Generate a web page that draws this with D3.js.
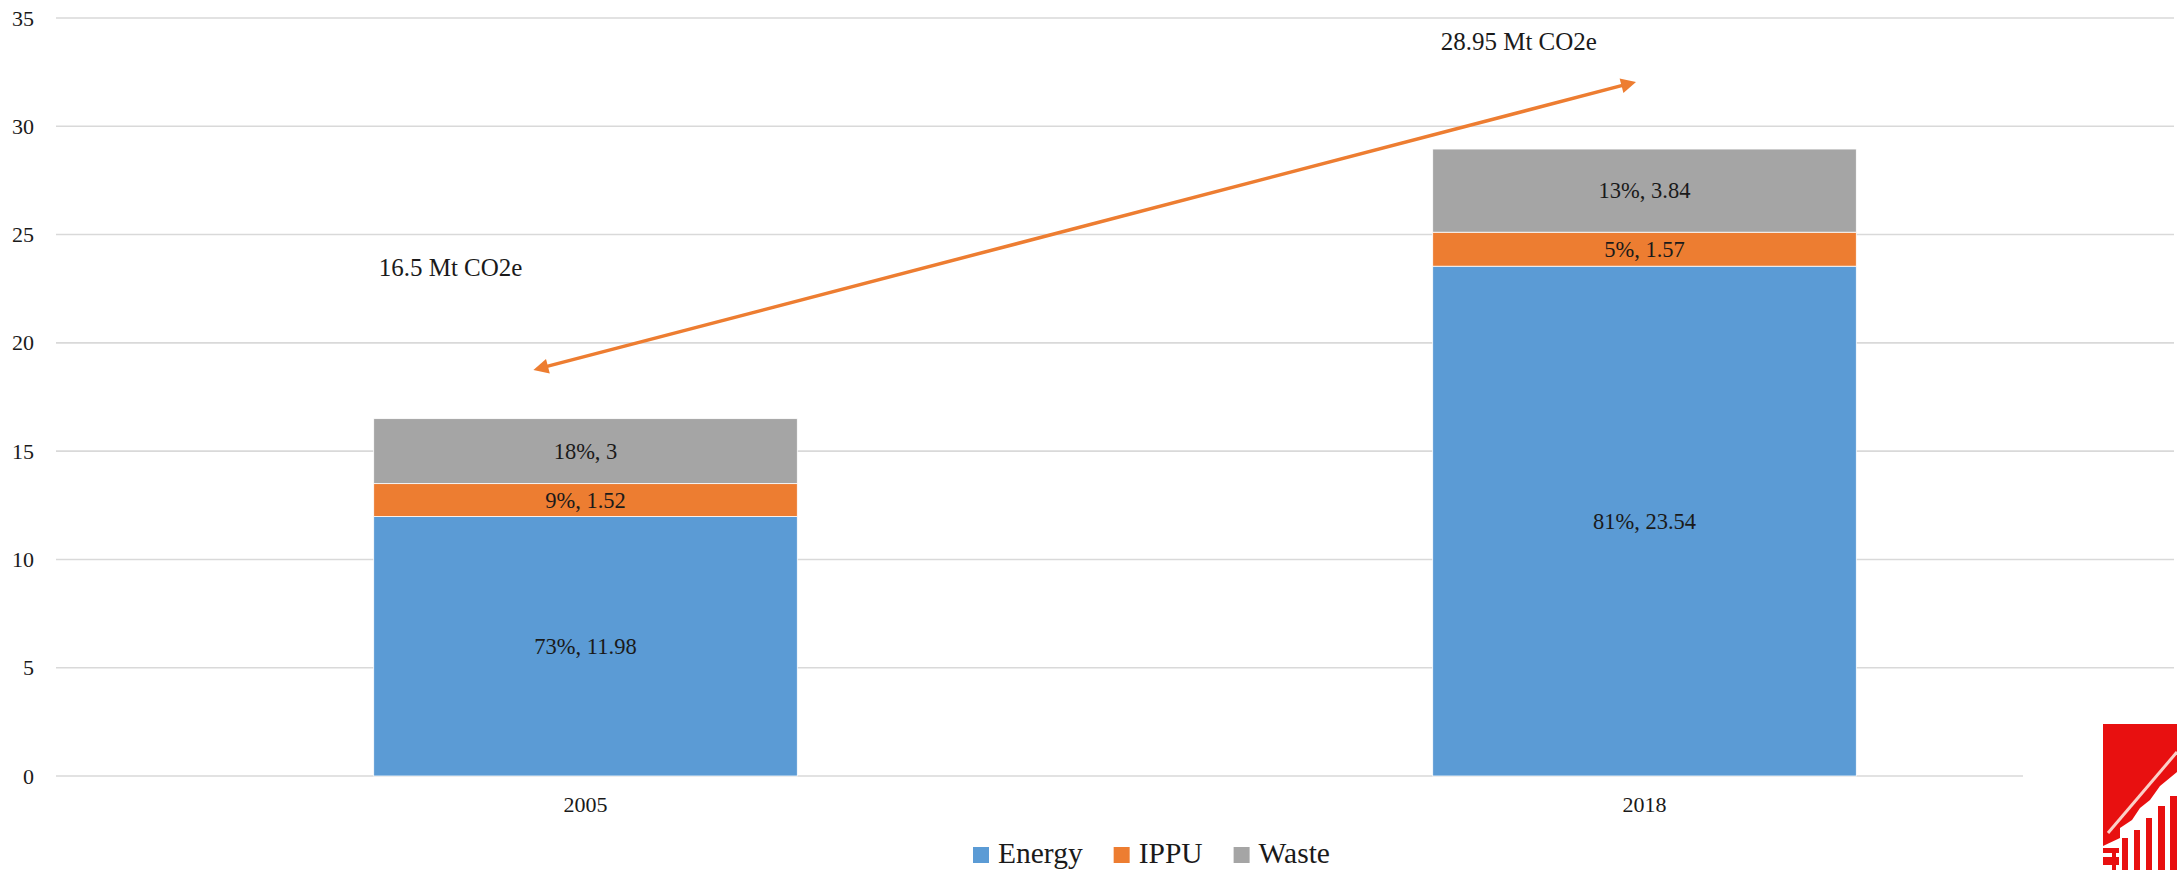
<!DOCTYPE html>
<html>
<head>
<meta charset="utf-8">
<script src="https://cdn.jsdelivr.net/npm/d3@7"></script>
<style>
  html, body { margin: 0; padding: 0; background: #fff; }
  svg { display: block; }
  text { font-family: "Liberation Serif", "Times New Roman", serif; fill: #1a1a1a; }
</style>
</head>
<body>
<svg id="chart" width="2177" height="872"></svg>
<script>
// Emissions by sector (Mt CO2e)
const years = ["2005", "2018"];
const sectors = ["Energy", "IPPU", "Waste"];
const energy = [11.98, 23.54];
const ippu = [1.52, 1.57];
const waste = [3, 3.84];
const energyPct = [73, 81];
const ippuPct = [9, 5];
const wastePct = [18, 13];
const totals = [16.5, 28.95];
const yTicks = [0, 5, 10, 15, 20, 25, 30, 35];
const colors = ["#5B9BD5", "#ED7D31", "#A5A5A5"];

// Total annotations and the growth arrow between them
const totalLabels = ["16.5 Mt CO2e", "28.95 Mt CO2e"];
const totalLabelValue = [23.1, 33.5];
const arrowFrom = { year: "2005", offset: -0.123, value: 18.75 };
const arrowTo = { year: "2018", offset: -0.02, value: 32.05 };

const svg = d3.select("#chart");
const plotLeft = 56, plotRight = 2174, plotTop = 18, plotBottom = 776;

const x = d3.scaleBand().domain(years).range([plotLeft, plotRight])
  .paddingInner(0.6).paddingOuter(0.3);
const y = d3.scaleLinear().domain([0, 35]).range([plotBottom, plotTop]);

// Gridlines
svg.append("g").selectAll("line").data(yTicks).join("line")
  .attr("x1", plotLeft).attr("x2", plotRight)
  .attr("y1", d => y(d)).attr("y2", d => y(d))
  .attr("stroke", "#d9d9d9").attr("stroke-width", 1.6);

// Y axis labels
const yAxis = svg.append("g").attr("transform", `translate(${plotLeft - 22},0)`)
  .call(d3.axisLeft(y).tickValues(yTicks).tickSize(0).tickPadding(0));
yAxis.select(".domain").remove();
yAxis.selectAll("text").attr("font-size", 22).attr("font-family", "Liberation Serif")
  .attr("fill", "#1a1a1a");

// Stacked bars
const rows = years.map((yr, i) => ({
  year: yr, Energy: energy[i], IPPU: ippu[i], Waste: waste[i],
  pct: { Energy: energyPct[i], IPPU: ippuPct[i], Waste: wastePct[i] }
}));
const stack = d3.stack().keys(sectors)(rows);

const layers = svg.append("g").selectAll("g").data(stack).join("g")
  .attr("fill", (d, i) => colors[i]);
layers.selectAll("rect").data(d => d.map(s => Object.assign(s, { key: d.key }))).join("rect")
  .attr("x", d => x(d.data.year))
  .attr("width", x.bandwidth())
  .attr("y", d => y(d[1]))
  .attr("height", d => y(d[0]) - y(d[1]))
  .attr("stroke", "#fff").attr("stroke-width", 0.8);

// Segment labels
layers.selectAll("text").data(d => d).join("text")
  .attr("x", d => x(d.data.year) + x.bandwidth() / 2)
  .attr("y", d => (y(d[0]) + y(d[1])) / 2)
  .attr("dy", "0.35em")
  .attr("text-anchor", "middle")
  .attr("font-size", 22.5)
  .text(d => `${d.data.pct[d.key]}%, ${d.data[d.key]}`);

// X axis labels
svg.append("g").selectAll("text").data(years).join("text")
  .attr("x", d => x(d) + x.bandwidth() / 2)
  .attr("y", 812)
  .attr("text-anchor", "middle")
  .attr("font-size", 22)
  .text(d => d);

// Total labels
svg.append("g").selectAll("text").data(years).join("text")
  .attr("x", (d, i) => x(d) + (i === 0 ? 5 : 8))
  .attr("y", (d, i) => y(totalLabelValue[i]))
  .attr("font-size", 25)
  .text((d, i) => totalLabels[i]);

// Double-headed growth arrow
const ax = p => x(p.year) + x.bandwidth() / 2 + p.offset * x.bandwidth();
const p1 = [ax(arrowFrom), y(arrowFrom.value)];
const p2 = [ax(arrowTo), y(arrowTo.value)];
const ang = Math.atan2(p2[1] - p1[1], p2[0] - p1[0]);
const headLen = 15, headW = 7.5;
function head(tip, a) {
  const bx = tip[0] - headLen * Math.cos(a), by = tip[1] - headLen * Math.sin(a);
  const nx = -Math.sin(a) * headW, ny = Math.cos(a) * headW;
  return `M${tip[0]},${tip[1]}L${bx + nx},${by + ny}L${bx - nx},${by - ny}Z`;
}
const arrowColor = "#ED7D31";
svg.append("line")
  .attr("x1", p1[0] + (headLen - 2) * Math.cos(ang)).attr("y1", p1[1] + (headLen - 2) * Math.sin(ang))
  .attr("x2", p2[0] - (headLen - 2) * Math.cos(ang)).attr("y2", p2[1] - (headLen - 2) * Math.sin(ang))
  .attr("stroke", arrowColor).attr("stroke-width", 3.5);
svg.append("path").attr("d", head(p2, ang)).attr("fill", arrowColor);
svg.append("path").attr("d", head(p1, ang + Math.PI)).attr("fill", arrowColor);

// Legend
const legend = svg.append("g");
let lx = 973;
sectors.forEach((s, i) => {
  legend.append("rect").attr("x", lx).attr("y", 847).attr("width", 16).attr("height", 16)
    .attr("fill", colors[i]);
  const t = legend.append("text").attr("x", lx + 25).attr("y", 863)
    .attr("font-size", 29.5).text(s);
  lx += 25 + t.node().getComputedTextLength() + 31;
});

// Corner logo
const logo = svg.append("g");
logo.append("rect").attr("x", 2023).attr("y", 700).attr("width", 154).attr("height", 172).attr("fill", "#fff");
logo.append("rect").attr("x", 2103).attr("y", 724).attr("width", 74).attr("height", 146).attr("fill", "#e81010");
logo.append("line").attr("x1", 2108).attr("y1", 833).attr("x2", 2177).attr("y2", 752)
  .attr("stroke", "#fbd0c8").attr("stroke-width", 3);
logo.append("path")
  .attr("d", "M2103,846 L2120,838 L2120,828 L2132,820 L2140,808 L2150,800 L2160,786 L2177,772 L2177,870 L2103,870 Z")
  .attr("fill", "#fff");
[[2112, 850, 4, 20], [2122, 838, 6, 32], [2134, 830, 6, 40], [2146, 818, 6, 52], [2158, 806, 7, 64], [2170, 796, 7, 74]]
  .forEach(b => logo.append("rect").attr("x", b[0]).attr("y", b[1]).attr("width", b[2]).attr("height", b[3]).attr("fill", "#e81010"));
logo.append("rect").attr("x", 2103).attr("y", 848).attr("width", 16).attr("height", 5).attr("fill", "#e81010");
logo.append("rect").attr("x", 2103).attr("y", 857).attr("width", 16).attr("height", 8).attr("fill", "#e81010");
</script>
</body>
</html>
